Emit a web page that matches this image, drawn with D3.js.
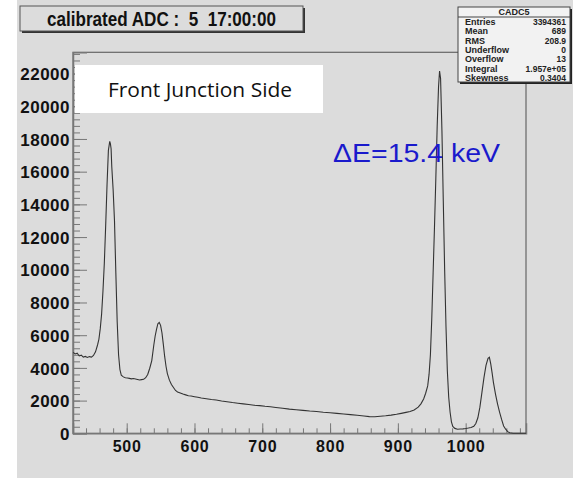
<!DOCTYPE html>
<html><head><meta charset="utf-8">
<script src="https://cdn.jsdelivr.net/npm/d3@7"></script>
<style>body{margin:0;background:#fff;} svg{display:block}</style>
</head><body><svg id="c" width="573" height="478"></svg>
<script>
// ---- data ----
const adc = [421,424,427,430,433,436,439,442,445,448,451,454,457,459,461,463,465,467,469,471,473,475,476,477,478,480,482,484,486,488,490,492,495,498,501,504,507,510,513,516,519,522,525,528,531,534,537,540,542,544,546,548,550,552,554,556,558,560,563,566,569,572,575,579,583,587,591,595,600,605,610,615,620,625,632,640,648,656,664,672,680,688,696,704,712,720,730,740,750,760,770,780,790,800,810,820,830,840,850,858,866,874,882,890,898,905,912,918,924,930,934,938,941,944,946,948,950,952,954,956,958,960,961.5,963,965,967,969,971,973,975,977,979,981,984,988,992,996,1000,1004,1008,1012,1015,1018,1021,1024,1027,1030,1033,1035,1037,1039,1041,1044,1047,1050,1053,1056,1059,1062,1065,1070,1089];
const counts = [4950,4850,4900,4730,4780,4660,4700,4640,4690,4660,4760,4980,5400,5750,6400,7300,8700,10400,12700,15200,17300,17850,17700,17400,16300,14900,13000,9800,6800,4800,3900,3550,3450,3400,3380,3360,3330,3350,3320,3290,3260,3280,3300,3400,3600,3980,4450,5400,5950,6350,6700,6780,6600,6150,5450,4700,4100,3650,3250,2980,2800,2620,2530,2470,2400,2350,2300,2280,2240,2200,2160,2130,2100,2070,2040,1980,1930,1880,1840,1800,1760,1720,1690,1650,1620,1580,1530,1480,1440,1400,1360,1330,1290,1260,1220,1180,1140,1100,1060,1020,1010,1040,1070,1110,1160,1220,1280,1330,1430,1600,1800,2100,2450,2900,3600,4800,7000,9800,12600,15600,18800,21200,22150,21700,18500,14200,10000,6500,3800,2200,1300,700,420,300,250,260,270,290,320,360,430,600,950,1600,2500,3400,4150,4580,4650,4250,3700,3100,2400,1800,1300,850,450,250,100,30,0,0];
const yTicks = [0,2000,4000,6000,8000,10000,12000,14000,16000,18000,20000,22000];
const xTicks = [500,600,700,800,900,1000];
const title = "calibrated ADC :  5  17:00:00";
const statsName = "CADC5";
const statsLabels = ["Entries","Mean","RMS","Underflow","Overflow","Integral","Skewness"];
const statsValues = ["3394361","689","208.9","0","13","1.957e+05","0.3404"];
const boxLabel = "Front Junction Side";
const resLabel = "\u0394E=15.4 keV";

// ---- drawing ----
const svg = d3.select("#c");
const bg = "#dcdcdc";
svg.append("rect").attr("width",573).attr("height",478).attr("fill",bg);
svg.append("rect").attr("width",17).attr("height",478).attr("fill","#fff");

const x = d3.scaleLinear().domain([420.8,1089]).range([73,526]);
const y = d3.scaleLinear().domain([0,23300]).range([433.3,52.3]);

// frame
svg.append("rect").attr("x",73).attr("y",52.3).attr("width",453).attr("height",381)
  .attr("fill","none").attr("stroke","#666").attr("stroke-width",1.2);

const font = "'Liberation Sans', Arial, Helvetica, sans-serif";

// y axis minor
const yMinor = d3.range(0,23300,400);
svg.append("g").attr("transform","translate(73,0)")
  .call(d3.axisLeft(y).tickValues(yMinor).tickSize(-7).tickFormat(""))
  .call(g=>{g.select(".domain").remove(); g.selectAll("line").attr("stroke","#777");});
svg.append("g").attr("transform","translate(73,0)")
  .call(d3.axisLeft(y).tickValues(yTicks).tickSize(-14).tickPadding(3).tickFormat(d3.format("d")))
  .call(g=>{g.select(".domain").attr("stroke","#777").attr("stroke-width",1.5);
    g.selectAll("line").attr("stroke","#777");
    g.selectAll("text").attr("font-family",font).attr("font-weight","bold")
      .attr("font-size",17).attr("letter-spacing","0.5px").attr("fill","#111").attr("dy","0.36em");});

// x axis minor
const xMinor = d3.range(440,1089,20);
svg.append("g").attr("transform","translate(0,433.3)")
  .call(d3.axisBottom(x).tickValues(xMinor).tickSize(-5).tickFormat(""))
  .call(g=>{g.select(".domain").remove(); g.selectAll("line").attr("stroke","#777");});
svg.append("g").attr("transform","translate(0,433.3)")
  .call(d3.axisBottom(x).tickValues(xTicks).tickSize(-10).tickPadding(7).tickFormat(d3.format("d")))
  .call(g=>{g.select(".domain").attr("stroke","#777").attr("stroke-width",1.5);
    g.selectAll("line").attr("stroke","#777");
    g.selectAll("text").attr("font-family",font).attr("font-weight","bold")
      .attr("font-size",16).attr("letter-spacing","0.8px").attr("fill","#111");});

// histogram line
const pts = adc.map((a,i)=>[a,counts[i]]);
svg.append("path").datum(pts)
  .attr("d", d3.line().x(d=>x(d[0])).y(d=>y(d[1])))
  .attr("fill","none").attr("stroke","#333").attr("stroke-width",1.1);

// title box
svg.append("rect").attr("x",22).attr("y",8).attr("width",283).attr("height",25).attr("fill","#333");
svg.append("rect").attr("x",20).attr("y",6).attr("width",283).attr("height",25)
  .attr("fill",bg).attr("stroke","#555").attr("stroke-width",1);
svg.append("text").attr("x",47).attr("y",26)
  .attr("font-family",font).attr("font-weight","bold").attr("font-size",20)
  .attr("textLength",229).attr("lengthAdjust","spacingAndGlyphs")
  .attr("fill","#111").style("white-space","pre").text(title);

// stats box
svg.append("rect").attr("x",460).attr("y",9).attr("width",112).attr("height",75).attr("fill","#222");
svg.append("rect").attr("x",458).attr("y",7).attr("width",112).attr("height",75)
  .attr("fill","#f2f2f2").attr("stroke","#444").attr("stroke-width",1);
svg.append("line").attr("x1",458).attr("x2",570).attr("y1",17).attr("y2",17).attr("stroke","#444");
svg.append("text").attr("x",514).attr("y",15).attr("text-anchor","middle")
  .attr("font-family",font).attr("font-weight","bold").attr("font-size",9).attr("fill","#222").text(statsName);
statsLabels.forEach((l,i)=>{
  const yy = 25 + i*9.3;
  svg.append("text").attr("x",465).attr("y",yy).attr("font-family",font).attr("font-weight","bold")
    .attr("font-size",9).attr("fill","#222").text(l);
  svg.append("text").attr("x",566).attr("y",yy).attr("text-anchor","end").attr("font-family",font)
    .attr("font-weight","bold").attr("font-size",8.5).attr("fill","#222").text(statsValues[i]);
});

// annotation box
svg.append("rect").attr("x",75).attr("y",65).attr("width",248).attr("height",48).attr("fill","#fff");
svg.append("text").attr("x",200).attr("y",97).attr("text-anchor","middle")
  .attr("font-family","'Open Sans', 'Noto Sans', sans-serif").attr("font-size",20)
  .attr("textLength",184).attr("lengthAdjust","spacingAndGlyphs")
  .attr("fill","#111").text(boxLabel);

// resolution text
svg.append("text").attr("x",333).attr("y",162).attr("font-family",font)
  .attr("font-size",26).attr("textLength",167).attr("lengthAdjust","spacingAndGlyphs")
  .attr("fill","#1a1acc").text(resLabel);
</script></body></html>
